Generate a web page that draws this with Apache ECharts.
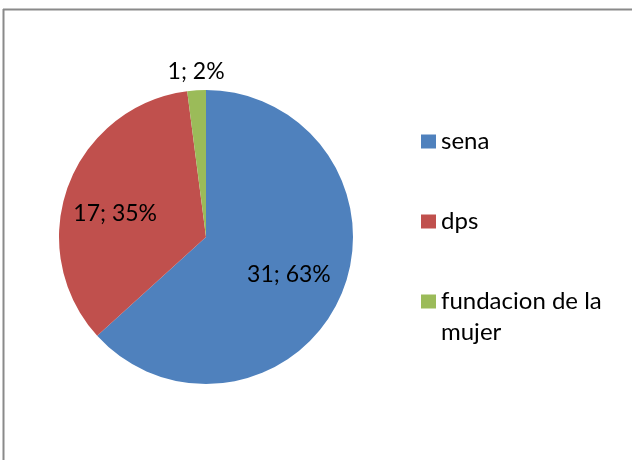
<!DOCTYPE html>
<html>
<head>
<meta charset="utf-8">
<script src="https://cdn.jsdelivr.net/npm/echarts@6/dist/echarts.min.js"></script>
<style>
    html, body { margin: 0; padding: 0; background: #fff; }
    #chart { width: 632px; height: 460px; }
</style>
</head>
<body>
<div id="chart"></div>
<script>
const categories = ['sena', 'dps', 'fundacion de la mujer']
const values = [31, 17, 1]
const legendLabels = ['sena', 'dps', '\nfundacion de la\nmujer']

const colors = ['#4F81BD', '#C0504D', '#9BBB59']
const pieCenter = [206, 237]
const pieRadius = 147
// nudge of each label away from the default inside spot
const labelOffsets = [[13, 7], [-19, 3], [-5, -89]]

const myChart = echarts.init(document.getElementById('chart'))

const legendTops = [126, 206, 255]
const legends = categories.map((name, i) => ({
    orient: 'vertical',
    left: 421,
    top: legendTops[i],
    padding: 0,
    itemWidth: 15,
    itemHeight: 14,
    icon: 'rect',
    selectedMode: false,
    data: [name],
    formatter: () => legendLabels[i],
    textStyle: {
        fontFamily: 'Lato',
        fontSize: 24,
        lineHeight: 31,
        color: '#000'
    }
}))

const total = values.reduce((a, b) => a + b, 0)

let option = {
    animation: false,
    color: colors,
    graphic: [
        {
            type: 'line',
            shape: { x1: 3, y1: 9.5, x2: 640, y2: 9.5 },
            style: { stroke: '#8a8a8a', lineWidth: 2 }
        },
        {
            type: 'line',
            shape: { x1: 3.5, y1: 9, x2: 3.5, y2: 470 },
            style: { stroke: '#8a8a8a', lineWidth: 2 }
        }
    ],
    legend: legends,
    series: [{
        type: 'pie',
        center: pieCenter,
        radius: pieRadius,
        startAngle: 90,
        clockwise: true,
        avoidLabelOverlap: false,
        emphasis: { disabled: true },
        label: {
            show: true,
            position: 'inside',
            fontFamily: 'Lato',
            fontSize: 23,
            color: '#000',
            formatter: (p) => p.value + '; ' + Math.round(p.value / total * 100) + '%'
        },
        labelLine: { show: false },
        labelLayout: (params) => ({
            dx: labelOffsets[params.dataIndex][0],
            dy: labelOffsets[params.dataIndex][1]
        }),
        data: categories.map((name, i) => ({ name: name, value: values[i] }))
    }]
}

myChart.setOption(option)
</script>
</body>
</html>
